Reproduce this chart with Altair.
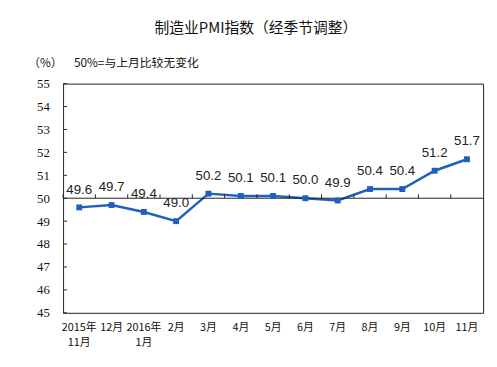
import altair as alt
import pandas as pd

months = ["2015年\n11月", "12月", "2016年\n1月", "2月", "3月", "4月", "5月",
          "6月", "7月", "8月", "9月", "10月", "11月"]
pmi = [49.6, 49.7, 49.4, 49.0, 50.2, 50.1, 50.1, 50.0, 49.9, 50.4, 50.4, 51.2, 51.7]
y_ticks = [45, 46, 47, 48, 49, 50, 51, 52, 53, 54, 55]
baseline = [50]
title_text = "制造业PMI指数（经季节调整）"
unit_text = "（%）"
note_text = "50%=与上月比较无变化"

W, H = 427, 233
BLUE = "#1f5fbd"
CJK = "Noto Sans CJK SC"

df = pd.DataFrame({"month": months, "pmi": pmi,
                   "lbl": [f"{v:.1f}" for v in pmi]})

xscale = alt.Scale(type="band", paddingInner=0, paddingOuter=0)
yscale = alt.Scale(domain=[45, 55], nice=False, zero=False)

XAX = alt.Axis(orient="bottom", domain=False, ticks=False, grid=False,
               labelAngle=0, labelFont=CJK, labelFontSize=11,
               labelColor="#111", labelPadding=9,
               labelLineHeight=15, labelOverlap=False,
               labelExpr="split(datum.label, '\\n')")
YAX = alt.Axis(values=y_ticks, domain=False, ticks=False, grid=False,
               labelOverlap=False,
               labelFont="Liberation Serif", labelFontSize=13,
               labelColor="#111", labelPadding=14)


def xenc(**kw):
    return alt.X("month:N", sort=months, scale=xscale, title=None, axis=XAX, **kw)


def yenc(field):
    return alt.Y(field, scale=yscale, title=None, axis=YAX)


# 50% reference line
base_line = alt.Chart(pd.DataFrame({"b": baseline})).mark_rule(
    color="#222", strokeWidth=1).encode(y=yenc("b:Q"))
# small ticks on the 50 line at category boundaries
sep_ticks = alt.Chart(df).mark_rule(color="#222", strokeWidth=1).encode(
    x=xenc(bandPosition=0),
    y=alt.value(H / 2 - 4), y2=alt.value(H / 2))

line = alt.Chart(df).mark_line(color=BLUE, strokeWidth=2.5).encode(
    x=xenc(), y=yenc("pmi:Q"))
pts = alt.Chart(df).mark_square(color=BLUE, size=36, opacity=1).encode(
    x=xenc(), y=yenc("pmi:Q"))
labels = alt.Chart(df).mark_text(font="Liberation Sans", fontSize=13.5,
                                 color="#222", dy=-18).encode(
    x=xenc(), y=yenc("pmi:Q"), text="lbl:N")

ytick_df = pd.DataFrame({"v": y_ticks})
yticks = alt.Chart(ytick_df).mark_rule(color="#222", strokeWidth=1).encode(
    x=alt.value(0), x2=alt.value(4), y=yenc("v:Q"))

title = alt.Chart(pd.DataFrame({"t": [title_text]})).mark_text(
    font=CJK, fontSize=15, color="#111").encode(
    x=alt.value(196), y=alt.value(-56), text="t:N")
unit = alt.Chart(pd.DataFrame({"t": [unit_text]})).mark_text(
    font=CJK, fontSize=12, color="#111", align="center").encode(
    x=alt.value(-18), y=alt.value(-21), text="t:N")
note = alt.Chart(pd.DataFrame({"t": [note_text]})).mark_text(
    font=CJK, fontSize=12, color="#111", align="left").encode(
    x=alt.value(11), y=alt.value(-21), text="t:N")

chart = alt.layer(line, base_line, sep_ticks, pts, labels, yticks,
                  title, unit, note).properties(
    width=W, height=H,
    autosize=alt.AutoSizeParams(type="none"),
    padding={"left": 56, "top": 74, "right": 6, "bottom": 40},
    background="white",
).configure_view(stroke="#222", strokeWidth=1)

chart.save("out.html", embed_options={"renderer": "svg", "actions": False})
